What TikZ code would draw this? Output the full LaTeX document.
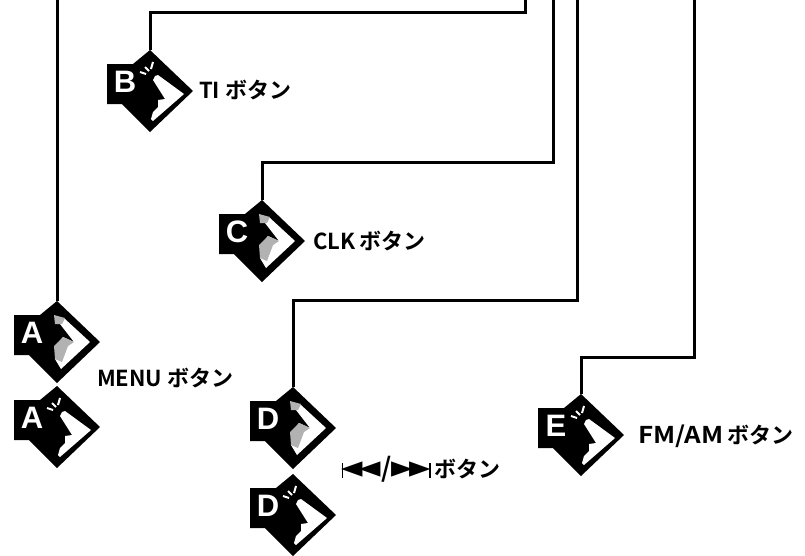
\documentclass[tikz,border=0pt]{standalone}
\usepackage{fontspec}
\setmainfont{Noto Sans CJK JP}[BoldFont={Noto Sans CJK JP Bold}]
\newfontfamily\capfont{Liberation Sans}
\newfontfamily\markfont{DejaVu Sans}
\newcommand{\Skip}{\scalebox{1.27}[1.4]{\markfont\rule[-0.5pt]{1pt}{11pt}\kern-1.5pt◄\kern-2.5pt◄}}
\newcommand{\Next}{\scalebox{1.27}[1.4]{\markfont►\kern-2.5pt►\kern-1.5pt\rule[-0.5pt]{1pt}{11pt}}}
\tikzset{
  pics/keycap/.style={code={
    \begin{scope}[yscale=-1]
      \fill (0,41) -- (43,0) -- (0,-41) -- (-28,-13) -- (-43,-13) -- (-43,27) -- (-17,27) -- cycle;
      \coordinate (-apex) at (0,41);
      \node[keyletter] (-letter) at (-25,9) {#1};
    \end{scope}}},
  pics/keydown/.style={code={
    \begin{scope}[yscale=-1]
      \fill[white] (3,11) -- (5,15) -- (8,16) -- (34,-3) -- (3,-30) -- (1,-28) -- (3,-21) -- (8,-16) -- (8,-9) -- (15,-8) -- cycle;
      \draw[ray] (-10,19) -- (-4,17);
      \draw[ray] (-5,24) -- (-1,20);
      \draw[ray] (3,29) -- (1,22);
    \end{scope}}},
  pics/keyup/.style={code={
    \begin{scope}[yscale=-1]
      \fill[white] (3,23) -- (8,23) -- (33,0) -- (4,-27) -- (-2,-17) -- (-2,-5) -- (6,5) -- (17,0) -- (3,18) -- cycle;
      \fill[keyshade] (-3,27) -- (8,24) -- (5,18) -- (-2,18) -- cycle;
      \fill[keyshade] (6,5) -- (17,0) -- (11,-4) -- (5,-20) -- (-2,-17) -- (-3,-4) -- cycle;
    \end{scope}}}
}
\begin{document}
\begin{tikzpicture}[x=1pt, y=-1pt,
  every node/.style={font=\bfseries\fontsize{22}{24}\selectfont},
  keyletter/.style={text=white, inner sep=0pt, font=\capfont\bfseries\fontsize{31}{31}\selectfont},
  keyshade/.style={gray!60},
  ray/.style={white, line width=2pt},
  wire/.style={line width=3pt},
  tag/.style={anchor=west, inner sep=0pt}]
  \useasboundingbox (0,0) rectangle (805,555);
  \clip (0,0) rectangle (805,555);
  \pic (a) at (57,342) {keycap=A};
  \pic at (57,342) {keyup};
  \pic (aa) at (57,427) {keycap=A};
  \pic at (57,427) {keydown};
  \pic (b) at (150,91) {keycap=B};
  \pic at (150,91) {keydown};
  \pic (c) at (262,241) {keycap=C};
  \pic at (262,241) {keyup};
  \pic (d) at (293,428) {keycap=D};
  \pic at (293,428) {keyup};
  \pic (dd) at (293,515) {keycap=D};
  \pic at (293,515) {keydown};
  \pic (e) at (581,435) {keycap=E};
  \pic at (581,435) {keydown};
  \node[tag] (ti) at (199,90) {TI ボタン};
  \node[tag] (clk) at (313,241) {CLK\kern-1pt\ ボタン};
  \node[tag] (menu) at (97,378) {MENU ボタン};
  \node[tag] (skip) at (342,469) {\Skip\scalebox{1.2}{/}\Next\,ボタン};
  \node[tag] (band) at (638,436) {\scalebox{1.18}[1.05]{FM/AM}\kern-1pt\ ボタン};
  \coordinate (aout) at (57,0);
  \coordinate (bout) at (525,0);
  \coordinate (cout) at (553,0);
  \coordinate (dout) at (577,0);
  \coordinate (eout) at (694,0);
  \draw[wire] (a-apex) -- (aout);
  \draw[wire] (b-apex) -- ++(0,-38) -| (bout);
  \draw[wire] (c-apex) -- ++(0,-38) -| (cout);
  \draw[wire] (d-apex) -- ++(0,-87) -| (dout);
  \draw[wire] (e-apex) -- ++(0,-37) -| (eout);
\end{tikzpicture}
\end{document}
